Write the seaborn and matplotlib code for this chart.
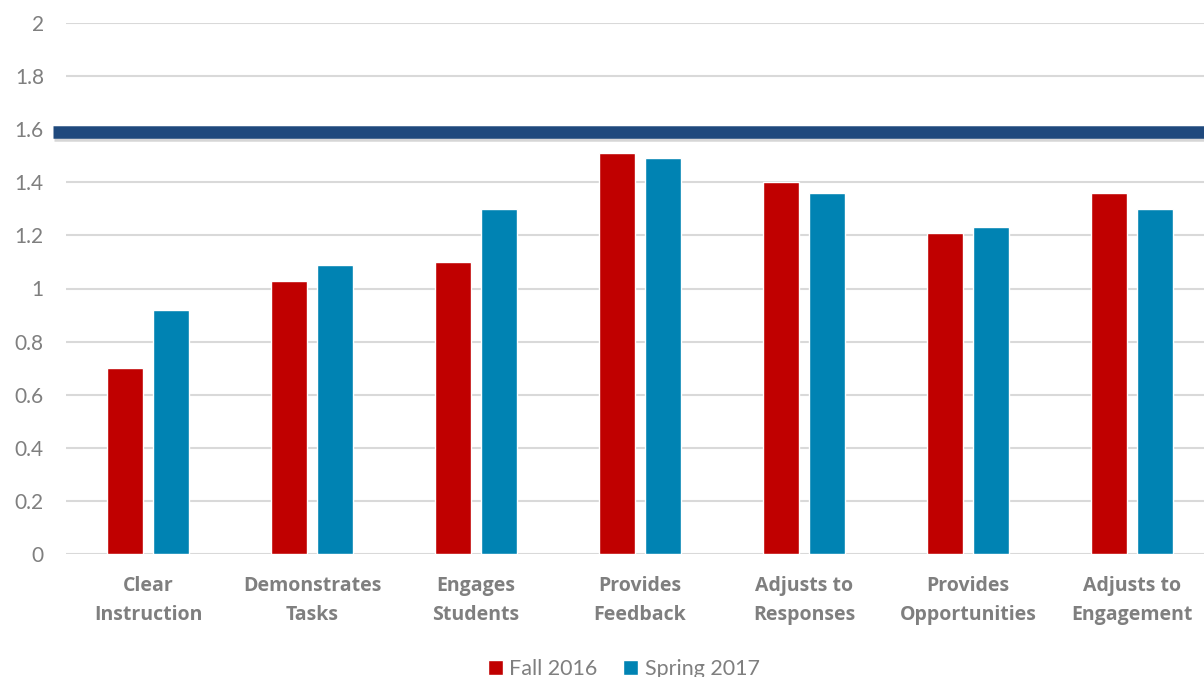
import matplotlib
matplotlib.use('Agg')
import matplotlib.pyplot as plt
import matplotlib.patheffects as pe
import seaborn as sns
import pandas as pd

# data
categories = ['Clear\nInstruction', 'Demonstrates\nTasks', 'Engages\nStudents', 'Provides\nFeedback',
              'Adjusts to\nResponses', 'Provides\nOpportunities', 'Adjusts to\nEngagement']
fall_2016 = [0.70, 1.03, 1.10, 1.51, 1.40, 1.21, 1.36]
spring_2017 = [0.92, 1.09, 1.30, 1.49, 1.36, 1.23, 1.30]
target = 1.59
y_ticks = [0, 0.2, 0.4, 0.6, 0.8, 1, 1.2, 1.4, 1.6, 1.8, 2]
y_tick_labels = ['0', '0.2', '0.4', '0.6', '0.8', '1', '1.2', '1.4', '1.6', '1.8', '2']

df = pd.DataFrame({
    'Category': categories * 2,
    'Score': fall_2016 + spring_2017,
    'Term': ['Fall 2016'] * len(categories) + ['Spring 2017'] * len(categories),
})

sns.set_theme(style='white')
plt.rcParams['font.family'] = ['Lato', 'DejaVu Sans']

fig = plt.figure(figsize=(12.04, 6.77), dpi=100)
# axes runs past the right edge like the source
ax = fig.add_axes([66 / 1204, 123 / 677, 1148 / 1204, 531 / 677])

sns.barplot(data=df, x='Category', y='Score', hue='Term',
            palette={'Fall 2016': '#C00000', 'Spring 2017': '#0083B3'},
            width=0.56, gap=0.21, ax=ax, legend=True, saturation=1)

for y in y_ticks:
    ax.axhline(y, color='#D9D9D9', lw=1.5, zorder=0)

ax.set_ylim(0, 2)
ax.set_xlim(-0.5, 6.5)
ax.set_yticks(y_ticks)
ax.set_yticklabels(y_tick_labels)
ax.set_xticks(range(len(categories)))
ax.set_xticklabels(categories, fontweight='bold', linespacing=1.6, family=['Open Sans', 'DejaVu Sans'])
ax.tick_params(axis='y', length=0, pad=16, labelsize=15, labelcolor='#7F7F7F')
ax.tick_params(axis='x', length=0, pad=16, labelsize=14, labelcolor='#7F7F7F')
ax.set_xlabel('')
ax.set_ylabel('')
sns.despine(ax=ax, left=True, bottom=True, right=True, top=True)

# target line
ax.plot([-0.58, 6.6], [target, target], color='#1F497D', lw=9, solid_capstyle='butt', clip_on=False,
        path_effects=[pe.SimpleLineShadow(offset=(1, -2.5), shadow_color='#999999', alpha=0.4),
                      pe.Normal()], zorder=5)

handles, labels = ax.get_legend_handles_labels()
ax.get_legend().remove()
fig.legend(handles, labels, loc='center', bbox_to_anchor=(0.518, 0.012), ncol=2, frameon=False,
           fontsize=15.5, labelcolor='#7F7F7F', handlelength=0.7, handleheight=0.7,
           handletextpad=0.3, columnspacing=1.2)

fig.savefig('out.png', dpi=100)
